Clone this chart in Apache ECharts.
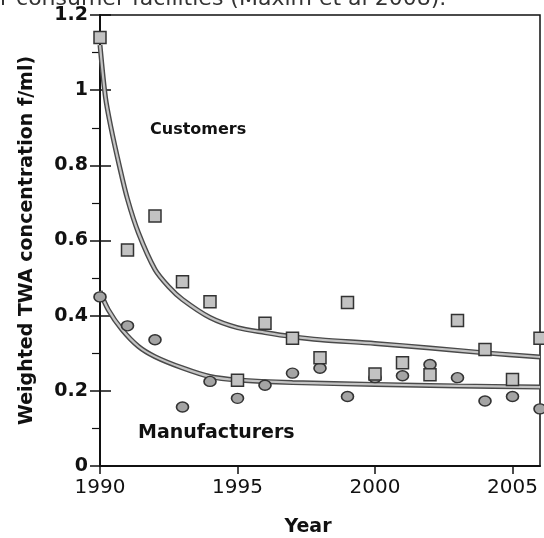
<!DOCTYPE html>
<html>
<head>
<meta charset="utf-8">
<script src="https://cdn.jsdelivr.net/npm/echarts@6/dist/echarts.min.js"></script>
<style>
  html, body { margin: 0; padding: 0; background: #fff; }
  #chart { width: 544px; height: 538px; }
</style>
</head>
<body>
<div id="chart"></div>
<script>
    // measured points, one per year
    var years = [1990, 1991, 1992, 1993, 1994, 1995, 1996, 1997, 1998, 1999, 2000, 2001, 2002, 2003, 2004, 2005, 2006];
    var customers = [1.14, 0.575, 0.665, 0.49, 0.437, 0.228, 0.38, 0.34, 0.288, 0.435, 0.245, 0.275, 0.243, 0.387, 0.31, 0.23, 0.34];
    var manufacturers = [0.45, 0.373, 0.336, 0.157, 0.225, 0.18, 0.215, 0.247, 0.26, 0.185, 0.235, 0.24, 0.27, 0.235, 0.173, 0.185, 0.152];

    // fitted curves
    var custFitX = [1990, 1990.2, 1990.4, 1990.7, 1991, 1991.4, 1992, 1992.5, 1993, 1994, 1995, 1996, 1997, 1998, 2000, 2002, 2004, 2006];
    var custFitY = [1.12, 0.98, 0.9, 0.8, 0.71, 0.62, 0.523, 0.477, 0.443, 0.395, 0.368, 0.355, 0.344, 0.336, 0.326, 0.314, 0.301, 0.29];
    var mfrFitX = [1990, 1990.3, 1990.8, 1991.4, 1992, 1993, 1994, 1995, 1997, 2000, 2003, 2006];
    var mfrFitY = [0.465, 0.416, 0.363, 0.318, 0.291, 0.261, 0.238, 0.229, 0.222, 0.217, 0.213, 0.21];

    var yTicks = [0, 0.2, 0.4, 0.6, 0.8, 1, 1.2];
    var xTicks = [1990, 1995, 2000, 2005];

    function pairs(xs, ys) {
        return xs.map(function (x, i) { return [x, ys[i]]; });
    }

    var font = 'DejaVu Sans';
    var chart = echarts.init(document.getElementById('chart'));

    function band(name, data, z) {
        return [
            { name: name, type: 'line', data: data, smooth: 0.3, symbol: 'none', z: z,
              lineStyle: { color: '#4a4a4a', width: 5 }, animation: false },
            { name: name, type: 'line', data: data, smooth: 0.3, symbol: 'none', z: z + 1,
              lineStyle: { color: '#c4c4c4', width: 2.2 }, animation: false }
        ];
    }

    var option = {
        backgroundColor: '#fff',
        animation: false,
        grid: { left: 100, right: 4, top: 15, bottom: 72, containLabel: false, outerBoundsMode: 'none',
                show: true, borderColor: '#111', borderWidth: 1.5 },
        xAxis: {
            type: 'value', min: 1990, max: 2006, interval: 5,
            name: 'Year', nameLocation: 'middle', nameGap: 52,
            nameTextStyle: { fontFamily: font, fontWeight: 'bold', fontSize: 19, color: '#111', padding: [0, 24, 0, 0] },
            axisLine: { lineStyle: { color: '#111', width: 2 } },
            axisTick: { inside: false, length: 8, lineStyle: { color: '#111', width: 1.5 },
                        customValues: xTicks },
            axisLabel: { fontFamily: font, fontSize: 20, color: '#111', margin: 12,
                         customValues: xTicks,
                         formatter: function (v) { return String(v); } },
            splitLine: { show: false }
        },
        yAxis: [{
            type: 'value', min: 0, max: 1.2, interval: 0.2,
            name: 'Weighted TWA concentration f/ml)', nameLocation: 'middle', nameGap: 63,
            nameTextStyle: { fontFamily: font, fontWeight: 'bold', fontSize: 19, color: '#111' },
            axisLine: { show: true, lineStyle: { color: '#111', width: 2 } },
            axisTick: { show: true, inside: false, length: 10, lineStyle: { color: '#111', width: 1.5 } },
            minorTick: { show: true, splitNumber: 2, length: 8, lineStyle: { color: '#111', width: 1.2 } },
            axisLabel: { fontFamily: font, fontWeight: 'bold', fontSize: 19, color: '#111', margin: 12,
                         customValues: yTicks },
            splitLine: { show: false }
        }, {
            type: 'value', min: 0, max: 1.2, interval: 0.2, position: 'left',
            axisLine: { show: false },
            axisTick: { show: true, inside: true, length: 11, lineStyle: { color: '#111', width: 1.5 } },
            axisLabel: { show: false },
            splitLine: { show: false }
        }],
        graphic: [
            { type: 'text', left: 0, top: -12, style: { text: 'r consumer facilities (Maxim et al 2008).',
              fontFamily: font, fontSize: 22, fill: '#333' } },
            { type: 'text', left: 150, top: 122, style: { text: 'Customers',
              fontFamily: font, fontWeight: 'bold', fontSize: 16, fill: '#111' } },
            { type: 'text', left: 138, top: 424, style: { text: 'Manufacturers',
              fontFamily: font, fontWeight: 'bold', fontSize: 19, fill: '#111' } }
        ],
        series: [].concat(
            band('Customers fit', pairs(custFitX, custFitY), 2),
            band('Manufacturers fit', pairs(mfrFitX, mfrFitY), 2),
            [{
                name: 'Manufacturers', type: 'scatter', data: pairs(years, manufacturers), z: 5,
                symbol: 'circle', symbolSize: [12, 10],
                itemStyle: { color: '#a4a4a4', borderColor: '#333', borderWidth: 1.5, opacity: 1 }
            }, {
                name: 'Customers', type: 'scatter', data: pairs(years, customers), z: 6,
                symbol: 'rect', symbolSize: 12,
                itemStyle: { color: '#c2c2c2', borderColor: '#333', borderWidth: 1.5, opacity: 1 }
            }]
        )
    };
    chart.setOption(option);
</script>
</body>
</html>
